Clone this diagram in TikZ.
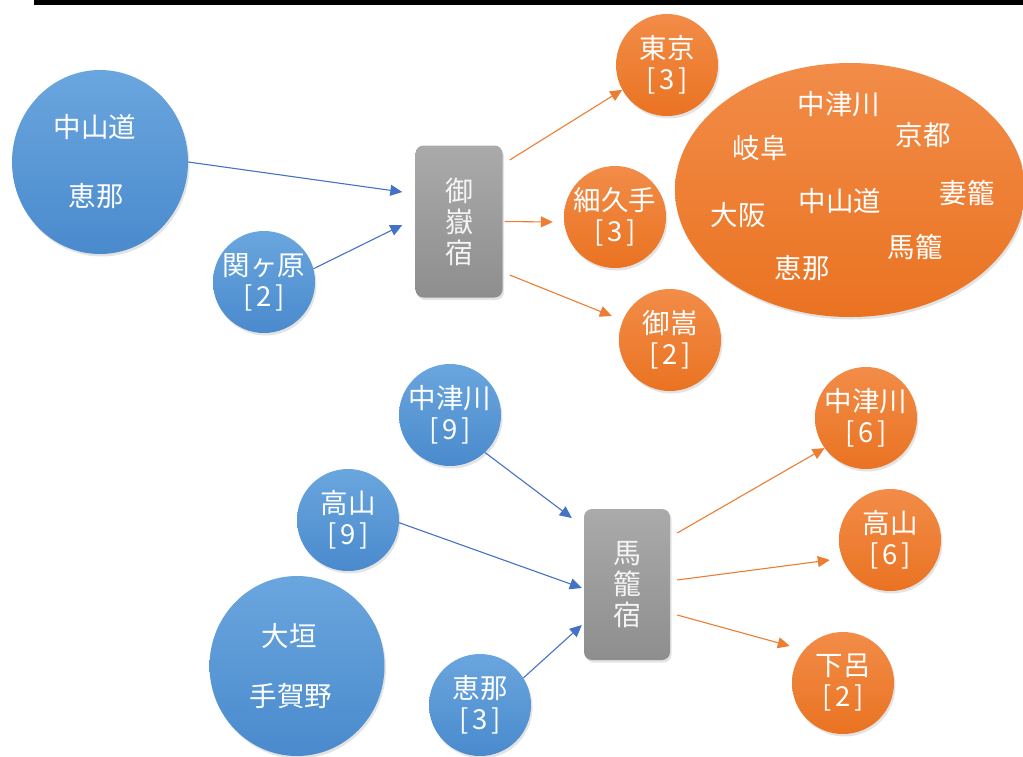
\documentclass[tikz,border=0pt]{standalone}
\usepackage{fontspec}
\setmainfont{Noto Sans CJK JP}
\usetikzlibrary{arrows.meta,shapes.geometric,shadows}
\definecolor{bluetop}{HTML}{6AA6DE}
\definecolor{bluebot}{HTML}{4A8ACD}
\definecolor{orangetop}{HTML}{F28C48}
\definecolor{orangebot}{HTML}{EA7322}
\definecolor{graytop}{HTML}{AAAAAA}
\definecolor{graybot}{HTML}{8E8E8E}
\definecolor{barrowc}{HTML}{4472C4}
\definecolor{oarrowc}{HTML}{ED7D31}
\definecolor{boxtext}{HTML}{F4F4F4}
\newcommand{\brk}[1]{[\hspace{3.5pt}#1\hspace{3.5pt}]}
\tikzset{
  shad/.style={drop shadow={opacity=0.22,shadow xshift=1.5pt,shadow yshift=-2.5pt}},
  bluecirc/.style={circle,minimum size=102pt,inner sep=0pt,top color=bluetop,bottom color=bluebot,draw=none,shad,
    text=white,font=\fontsize{27.5pt}{31pt}\selectfont,align=center},
  orangecirc/.style={circle,minimum size=102pt,inner sep=0pt,top color=orangetop,bottom color=orangebot,draw=none,shad,
    text=white,font=\fontsize{27.5pt}{31pt}\selectfont,align=center},
  bigblue/.style={ellipse,inner sep=0pt,top color=bluetop,bottom color=bluebot,draw=none,shad,
    text=white,font=\fontsize{27.5pt}{31pt}\selectfont,align=center},
  stationbox/.style={rectangle,rounded corners=8pt,minimum width=87pt,minimum height=152pt,inner sep=0pt,
    top color=graytop,bottom color=graybot,draw=none,shad,
    text=boxtext,font=\fontsize{28pt}{31pt}\selectfont,align=center},
  ovallabel/.style={text=white,font=\fontsize{27.5pt}{31pt}\selectfont,inner sep=0pt},
  barrow/.style={draw=barrowc,line width=1.1pt,-{Triangle[length=12pt,width=11pt]}},
  oarrow/.style={draw=oarrowc,line width=1.1pt,-{Triangle[length=12pt,width=11pt]}}
}
\begin{document}
\begin{tikzpicture}[x=1pt,y=-1pt]
\useasboundingbox (0,0) rectangle (1023,756);
\fill[black] (34,0) rectangle (1023,5);

% upper group
\node[bigblue,minimum width=176pt,minimum height=184pt] (bigA) at (100,162) {中山道\hspace*{10pt}\\[38pt]恵那\hspace*{8pt}};
\node[bluecirc] (seki) at (264,282) {関ヶ原\\\brk{2}};
\node[stationbox] (box1) at (459,221.5) {御\\嶽\\宿};
\node[orangecirc] (tokyo) at (667,65) {東京\\\brk{3}};
\node[orangecirc] (hoso) at (615,217) {細久手\\\brk{3}};
\node[orangecirc] (mitake) at (670,340) {御嵩\\\brk{2}};
\node[ellipse,minimum width=350pt,minimum height=254pt,inner sep=0pt,top color=orangetop,bottom color=orangebot,draw=none,shad] (bigO) at (850,190) {};
\node[ovallabel] (o1) at (839,104) {中津川};
\node[ovallabel] (o2) at (923,135) {京都};
\node[ovallabel] (o3) at (760,148) {岐阜};
\node[ovallabel] (o4) at (967,193) {妻籠};
\node[ovallabel] (o5) at (840,201) {中山道};
\node[ovallabel] (o6) at (738,215) {大阪};
\node[ovallabel] (o7) at (915,247) {馬籠};
\node[ovallabel] (o8) at (802,268) {恵那};

% lower group
\node[bluecirc] (naka9) at (450,415) {中津川\\\brk{9}};
\node[bluecirc] (taka9) at (348,520) {高山\\\brk{9}};
\node[bigblue,minimum width=175pt,minimum height=180pt] (ogaki) at (297,666) {大垣\hspace*{16pt}\\[29pt]手賀野\hspace*{12pt}};
\node[bluecirc] (ena3) at (480,705) {恵那\\\brk{3}};
\node[stationbox,minimum width=86pt,minimum height=151pt] (box2) at (627,584.5) {馬\\籠\\宿};
\node[orangecirc] (naka6) at (866,418) {中津川\\\brk{6}};
\node[orangecirc] (taka6) at (890,540) {高山\\\brk{6}};
\node[orangecirc] (gero) at (843,683) {下呂\\\brk{2}};

% connectors upper
\draw[barrow] (bigA.east) -- ([shift={(-13pt,29.5pt)}]box1.west);
\draw[barrow] (seki.15) -- ([shift={(-13pt,-3.5pt)}]box1.west);
\draw[oarrow] ([shift={(7pt,61.5pt)}]box1.east) -- (tokyo.209);
\draw[oarrow] ([shift={(2pt,0pt)}]box1.east) -- ([shift={(-11pt,-5pt)}]hoso.west);
\draw[oarrow] ([shift={(7pt,-53.5pt)}]box1.east) -- ([shift={(-7pt,24pt)}]mitake.west);

% connectors lower
\draw[barrow] (naka9.-47) -- ([shift={(-12pt,66.5pt)}]box2.west);
\draw[barrow] (taka9.-3) -- ([shift={(-2pt,-3.5pt)}]box2.west);
\draw[barrow] (ena3.32) -- ([shift={(-2pt,-40.5pt)}]box2.west);
\draw[oarrow] ([shift={(7pt,51.5pt)}]box2.east) -- (naka6.216);
\draw[oarrow] ([shift={(7pt,4.5pt)}]box2.east) -- ([shift={(-9pt,-20pt)}]taka6.west);
\draw[oarrow] ([shift={(7pt,-30.5pt)}]box2.east) -- ([shift={(-2pt,37pt)}]gero.west);
\end{tikzpicture}
\end{document}
